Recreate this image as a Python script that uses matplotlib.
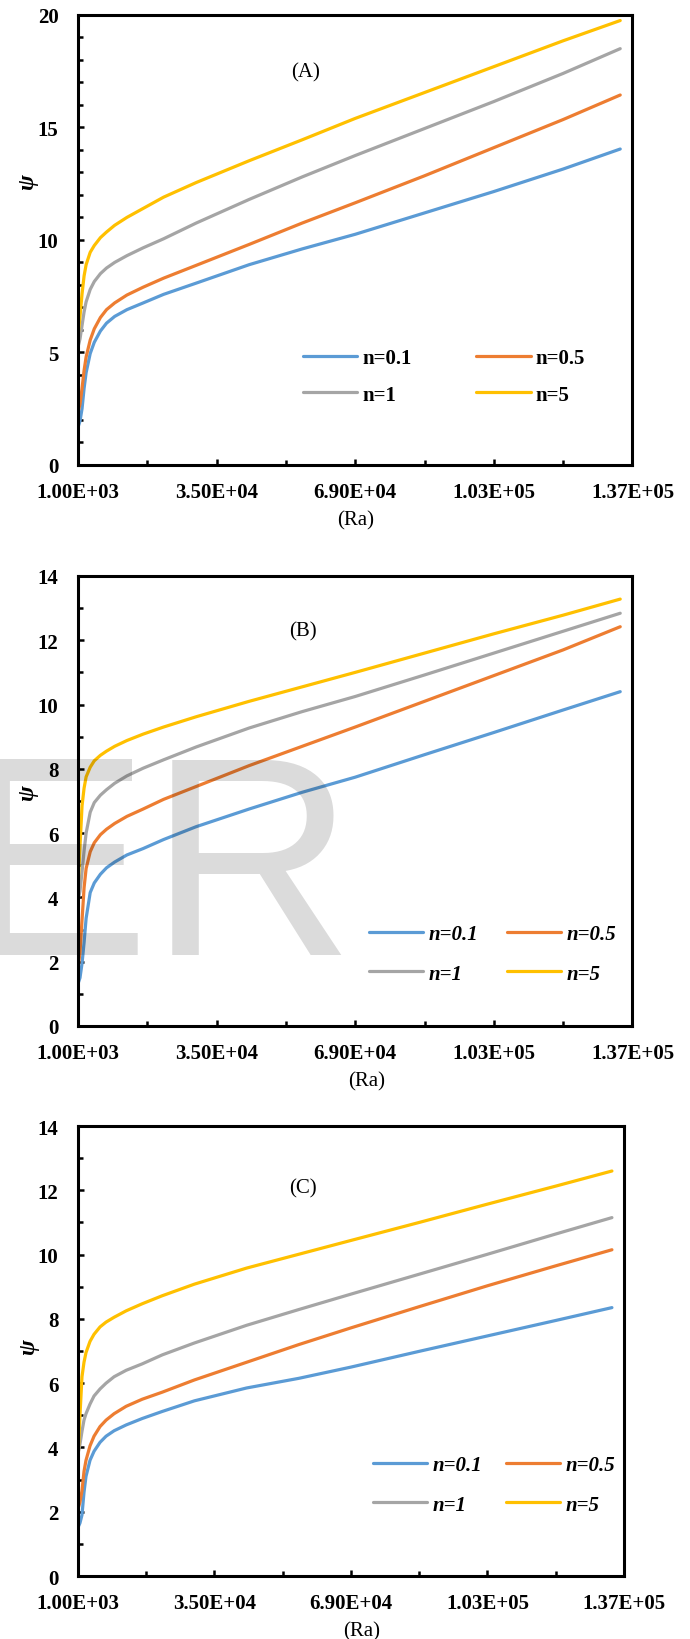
import matplotlib
matplotlib.use("Agg")
import matplotlib.pyplot as plt
from matplotlib.ticker import FixedLocator, FixedFormatter

plt.rcParams['font.family'] = ['Liberation Serif', 'DejaVu Serif']

# Rayleigh numbers where values were read
ra = [1000, 1500, 2000, 2500, 3000, 4000, 5000, 6500, 8000, 10000, 13000, 17000,
      22000, 30000, 43000, 56000, 69000, 86000, 103000, 120000, 134000]

series_names = ['n=0.1', 'n=0.5', 'n=1', 'n=5']
colors = ['#5B9BD5', '#ED7D31', '#A5A5A5', '#FFC000']

# panel (A)
a_n01 = [1.67, 1.95, 2.5, 3.4, 4.1, 4.95, 5.45, 5.95, 6.3, 6.6, 6.9, 7.2, 7.58, 8.08, 8.9, 9.6, 10.25, 11.2, 12.15, 13.15, 14.04]
a_n05 = [2.34, 2.7, 3.4, 4.2, 4.8, 5.55, 6.05, 6.55, 6.9, 7.2, 7.55, 7.9, 8.3, 8.87, 9.8, 10.75, 11.65, 12.85, 14.1, 15.35, 16.44]
a_n1 = [5.23, 5.6, 6.2, 6.8, 7.25, 7.8, 8.15, 8.5, 8.75, 9.0, 9.3, 9.65, 10.05, 10.75, 11.8, 12.8, 13.75, 14.95, 16.15, 17.4, 18.5]
a_n5 = [5.67, 6.6, 7.6, 8.4, 8.9, 9.45, 9.75, 10.1, 10.35, 10.65, 11.0, 11.4, 11.9, 12.55, 13.52, 14.45, 15.4, 16.55, 17.7, 18.85, 19.75]

# panel (B)
b_n01 = [1.31, 1.5, 1.95, 2.6, 3.35, 4.15, 4.45, 4.72, 4.92, 5.1, 5.32, 5.52, 5.8, 6.2, 6.75, 7.27, 7.74, 8.44, 9.13, 9.83, 10.4]
b_n05 = [1.77, 2.3, 3.3, 4.3, 4.9, 5.42, 5.7, 5.95, 6.12, 6.3, 6.52, 6.75, 7.05, 7.45, 8.1, 8.7, 9.3, 10.1, 10.9, 11.7, 12.42]
b_n1 = [3.90, 4.2, 4.8, 5.45, 6.0, 6.65, 6.95, 7.18, 7.35, 7.55, 7.78, 8.02, 8.28, 8.68, 9.27, 9.78, 10.25, 10.92, 11.6, 12.28, 12.84]
b_n5 = [4.21, 5.6, 6.85, 7.4, 7.75, 8.05, 8.25, 8.42, 8.55, 8.7, 8.88, 9.08, 9.3, 9.62, 10.1, 10.55, 11.0, 11.6, 12.2, 12.78, 13.28]

# panel (C)
c_n01 = [1.51, 1.65, 1.9, 2.6, 3.1, 3.6, 3.88, 4.16, 4.35, 4.52, 4.7, 4.9, 5.12, 5.45, 5.85, 6.15, 6.5, 6.99, 7.47, 7.95, 8.35]
c_n05 = [2.08, 2.3, 2.65, 3.25, 3.6, 4.05, 4.35, 4.65, 4.85, 5.05, 5.28, 5.5, 5.72, 6.1, 6.65, 7.2, 7.72, 8.38, 9.03, 9.65, 10.15]
c_n1 = [3.8, 4.1, 4.5, 4.85, 5.05, 5.35, 5.6, 5.82, 6.0, 6.2, 6.4, 6.6, 6.88, 7.25, 7.8, 8.29, 8.77, 9.39, 10.01, 10.64, 11.15]
c_n5 = [3.58, 5.0, 6.2, 6.65, 6.95, 7.3, 7.52, 7.75, 7.9, 8.05, 8.25, 8.47, 8.72, 9.08, 9.58, 10.01, 10.44, 11.0, 11.57, 12.13, 12.6]

xticks = [1000, 35000, 69000, 103000, 137000]
xtick_labels = ['1.00E+03', '3.50E+04', '6.90E+04', '1.03E+05', '1.37E+05']
xminor = [18000, 52000, 86000, 120000]

fig = plt.figure(figsize=(6.9, 16.4), dpi=100)

panels = [
    dict(rect=[0.1130, 0.7159, 0.8036, 0.2744], data=[a_n01, a_n05, a_n1, a_n5],
         ymax=20, ystep=5, tag='(A)', tagpos=(0.41, 0.873), ylab_y=0.63, ra_x=0.50,
         leg_style='normal', leg_anchor=(303, 349), colsp=3.1, labsp=0.8),
    dict(rect=[0.1130, 0.3738, 0.8036, 0.2744], data=[b_n01, b_n05, b_n1, b_n5],
         ymax=14, ystep=2, tag='(B)', tagpos=(0.406, 0.878), ylab_y=0.52, ra_x=0.52,
         leg_style='italic', leg_anchor=(369, 925), colsp=1.4, labsp=0.94),
    dict(rect=[0.1130, 0.0384, 0.7913, 0.2744], data=[c_n01, c_n05, c_n1, c_n5],
         ymax=14, ystep=2, tag='(C)', tagpos=(0.412, 0.862), ylab_y=0.51, ra_x=0.52,
         leg_style='italic', leg_anchor=(373, 1456), colsp=1.15, labsp=0.94),
]

W, H = 690, 1640
for p in panels:
    ax = fig.add_axes(p['rect'])
    lines = []
    for vals, name, col in zip(p['data'], series_names, colors):
        ln, = ax.plot(ra, vals, color=col, lw=2.3, label=name, solid_capstyle='round')
        lines.append(ln)
    ax.set_xlim(1000, 137000)
    ax.set_ylim(0, p['ymax'])
    ax.xaxis.set_major_locator(FixedLocator(xticks))
    ax.xaxis.set_major_formatter(FixedFormatter(xtick_labels))
    ax.xaxis.set_minor_locator(FixedLocator(xminor))
    ax.yaxis.set_major_locator(FixedLocator(list(range(0, p['ymax'] + 1, p['ystep']))))
    ax.yaxis.set_minor_locator(FixedLocator(list(range(0, p['ymax'] + 1))))
    for s in ax.spines.values():
        s.set_linewidth(2.2)
    ax.tick_params(which='both', direction='in', width=1.8, top=False, right=False)
    ax.tick_params(which='major', length=4.5)
    ax.tick_params(which='minor', length=3.5)
    ax.tick_params(axis='y', which='major', pad=14)
    ax.tick_params(axis='x', which='major', pad=12)
    for lab in ax.get_xticklabels() + ax.get_yticklabels():
        lab.set_fontsize(15)
        lab.set_fontweight('bold')
    ax.set_ylabel('ψ', fontsize=17, fontweight='bold', fontstyle='italic')
    ax.yaxis.set_label_coords(-0.072, p['ylab_y'])
    ax.set_xlabel('(Ra)', fontsize=15)
    ax.xaxis.set_label_coords(p['ra_x'], -0.10)
    ax.text(p['tagpos'][0], p['tagpos'][1], p['tag'], transform=ax.transAxes,
            fontsize=15, ha='center', va='center')
    # row 1: n=0.1, n=0.5 / row 2: n=1, n=5
    order = [0, 2, 1, 3]
    lx, ly = p['leg_anchor']
    ax.legend([lines[i] for i in order], [series_names[i] for i in order],
              loc='upper left', bbox_to_anchor=(lx / W, 1 - ly / H),
              bbox_transform=fig.transFigure, ncol=2, frameon=False,
              borderpad=0, borderaxespad=0, handlelength=2.6, handletextpad=0.25,
              columnspacing=p['colsp'], labelspacing=p['labsp'],
              prop=dict(family='Liberation Serif', size=15, weight='bold',
                        style=p['leg_style']))

# faint watermark letters over panel (B)
fig.text(-0.058, 1 - 955 / H, 'ER', fontsize=205, family='Liberation Sans',
         color='black', alpha=0.14, ha='left', va='baseline', zorder=10)

fig.savefig('out.png', dpi=100)
